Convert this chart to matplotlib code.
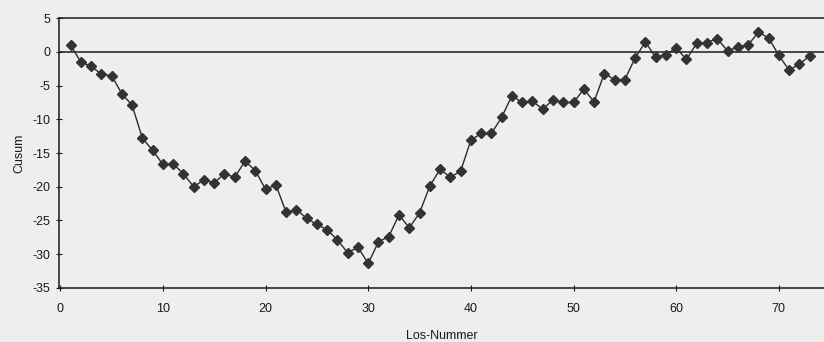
import matplotlib.pyplot as plt
import numpy as np

plt.rcParams['axes.unicode_minus'] = False

# Cusum per lot number
lots = np.arange(1, 74)
cusum = [1.1, -1.5, -2.1, -3.3, -3.5, -6.2, -7.9, -12.8, -14.6, -16.7,
         -16.6, -18.1, -20.0, -19.0, -19.4, -18.1, -18.6, -16.2, -17.6, -20.4,
         -19.7, -23.8, -23.4, -24.7, -25.6, -26.4, -27.9, -29.8, -29.0, -31.4,
         -28.2, -27.4, -24.2, -26.1, -23.9, -19.9, -17.4, -18.6, -17.7, -13.1,
         -12.1, -12.1, -9.7, -6.5, -7.5, -7.3, -8.5, -7.1, -7.5, -7.5,
         -5.5, -7.4, -3.2, -4.1, -4.1, -0.9, 1.5, -0.8, -0.4, 0.6,
         -1.1, 1.3, 1.4, 2.0, 0.15, 0.75, 1.05, 2.9, 2.1, -0.5,
         -2.7, -1.8, -0.6]
x_ticks = [0, 10, 20, 30, 40, 50, 60, 70]
y_ticks = [5, 0, -5, -10, -15, -20, -25, -30, -35]

fig = plt.figure(figsize=(8.24, 3.42), dpi=100)
fig.patch.set_facecolor('#eeeeee')

ax = fig.add_axes([58.7 / 824, 1 - 287.7 / 342, 1 - 58.7 / 824, (287.7 - 18.3) / 342])
ax.patch.set_alpha(0)

ax.plot(lots, cusum, color='#2b2b2b', lw=1.0, marker='D', markersize=4.6,
        markerfacecolor='#333333', markeredgecolor='#333333', zorder=3)
ax.axhline(0, color='#1a1a1a', lw=1.1, zorder=2)

ax.set_xlim(-0.15, 74.4)
ax.set_ylim(-35, 5)
ax.set_xticks(x_ticks)
ax.set_yticks(y_ticks)

for side in ['left', 'bottom', 'top']:
    ax.spines[side].set_color('#1a1a1a')
    ax.spines[side].set_linewidth(1.1)
ax.spines['right'].set_visible(False)

ax.tick_params(direction='inout', length=4, width=0.8, color='#1a1a1a',
               labelsize=9, labelcolor='#1a1a1a')
ax.tick_params(axis='x', pad=9)
ax.tick_params(axis='y', pad=4)
for lab in ax.get_xticklabels() + ax.get_yticklabels():
    lab.set_family('Liberation Sans')

ax.set_xlabel('Los-Nummer', fontsize=9, family='Liberation Sans',
              color='#1a1a1a', labelpad=11)
ax.set_ylabel('Cusum', fontsize=9, family='Liberation Sans',
              color='#1a1a1a', labelpad=5)

fig.savefig('out.png', dpi=100, facecolor=fig.get_facecolor())
